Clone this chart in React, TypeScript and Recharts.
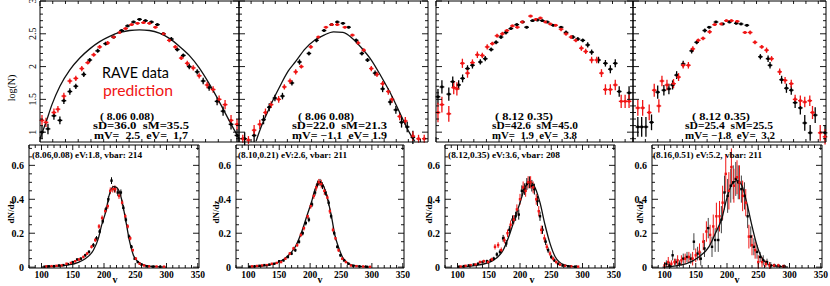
import { ComposedChart, Scatter, Line, XAxis, YAxis, ErrorBar } from 'recharts';

type Pt = [number, number, number];
type CPt = [number, number];

// ---- top row: log(N) panels (x in arbitrary 0..100 units) ----
const topYTicks = [0.9, 1, 1.1, 1.2, 1.3, 1.4, 1.5, 1.6, 1.7, 1.8, 1.9, 2, 2.1, 2.2, 2.3, 2.4, 2.5, 2.6, 2.7, 2.8, 2.9, 3];
const topXTicks = [0, 6.4, 12.8, 19.2, 25.6, 32, 38.4, 44.8, 51.2, 57.6, 64, 70.4, 76.8, 83.2, 89.6, 96];

const top1Black: Pt[] = [
  [1, 1.0, 0.1], [4, 1.05, 0.08], [7, 1.25, 0.06], [10, 1.18, 0.06], [12, 1.48, 0.05], [15, 1.62, 0.05],
  [18, 1.7, 0.04], [22, 1.88, 0.04], [25, 2.1, 0.03], [29, 2.24, 0.03], [33, 2.35, 0.03], [37, 2.45, 0.02],
  [41, 2.55, 0.02], [44, 2.62, 0.02], [47, 2.68, 0.02], [50, 2.72, 0.02], [53, 2.7, 0.02], [56, 2.68, 0.02],
  [59, 2.64, 0.02], [62, 2.5, 0.02], [66, 2.42, 0.03], [69, 2.26, 0.03], [72, 2.17, 0.03], [75, 2.0, 0.04],
  [79, 1.92, 0.04], [82, 1.78, 0.05], [85, 1.68, 0.05], [89, 1.47, 0.06], [92, 1.32, 0.07], [96, 1.12, 0.08],
  [99, 0.95, 0.1],
];
const top1Red: Pt[] = [
  [1, 1.18, 0.08], [3, 1.15, 0.07], [7, 1.3, 0.06], [9, 1.35, 0.05], [12, 1.55, 0.05], [15, 1.78, 0.04],
  [18, 1.82, 0.04], [21, 1.97, 0.04], [24, 2.06, 0.03], [27, 2.18, 0.03], [30, 2.3, 0.03], [34, 2.36, 0.03],
  [37, 2.45, 0.02], [40, 2.52, 0.02], [43, 2.58, 0.02], [46, 2.64, 0.02], [49, 2.66, 0.02], [52, 2.67, 0.02],
  [55, 2.66, 0.02], [58, 2.6, 0.02], [62, 2.5, 0.02], [65, 2.4, 0.03], [68, 2.3, 0.03], [71, 2.13, 0.03],
  [74, 2.05, 0.04], [77, 1.98, 0.04], [80, 1.86, 0.04], [84, 1.72, 0.05], [87, 1.65, 0.05], [90, 1.5, 0.06],
  [93, 1.42, 0.07], [96, 1.18, 0.08], [99, 1.12, 0.08],
];
const top1Curve: CPt[] = [
  [0, 0.9], [3, 1.15], [6, 1.42], [10, 1.7], [15, 1.95], [20, 2.13], [25, 2.27], [30, 2.38], [35, 2.46],
  [40, 2.52], [45, 2.55], [50, 2.56], [55, 2.55], [60, 2.51], [65, 2.43], [70, 2.31], [75, 2.17], [80, 1.98],
  [85, 1.74], [90, 1.47], [95, 1.18], [100, 0.9],
];

const top2Black: Pt[] = [
  [3, 0.9, 0.1], [8, 0.95, 0.1], [13, 1.19, 0.07], [16, 1.38, 0.06], [19, 1.52, 0.05], [23, 1.55, 0.05],
  [28, 1.75, 0.04], [32, 2.07, 0.04], [37, 2.2, 0.03], [41, 2.4, 0.03], [45, 2.55, 0.02], [49, 2.64, 0.02],
  [52, 2.68, 0.02], [55, 2.66, 0.02], [58, 2.6, 0.02], [62, 2.4, 0.03], [65, 2.2, 0.03], [68, 2.1, 0.03],
  [72, 1.9, 0.04], [76, 1.66, 0.05], [80, 1.46, 0.05], [83, 1.34, 0.06], [86, 1.15, 0.08], [89, 1.08, 0.08],
  [92, 0.92, 0.1],
];
const top2Red: Pt[] = [
  [2, 0.9, 0.06], [5, 0.88, 0.06], [8, 1.03, 0.08], [11, 1.12, 0.07], [14, 1.3, 0.06], [17, 1.42, 0.05],
  [21, 1.5, 0.05], [24, 1.69, 0.04], [27, 1.78, 0.04], [30, 1.92, 0.04], [33, 2.0, 0.03], [38, 2.3, 0.03],
  [42, 2.45, 0.02], [46, 2.6, 0.02], [49, 2.64, 0.02], [52, 2.64, 0.02], [56, 2.6, 0.02], [60, 2.48, 0.02],
  [63, 2.36, 0.03], [66, 2.25, 0.03], [70, 1.97, 0.04], [73, 1.88, 0.04], [76, 1.74, 0.04], [79, 1.62, 0.05],
  [81, 1.5, 0.05], [85, 1.24, 0.06], [88, 1.17, 0.06], [92, 0.94, 0.07], [95, 0.9, 0.06], [98, 0.9, 0.06],
];
const top2Curve: CPt[] = [
  [9, 0.86], [12, 1.1], [15, 1.3], [18, 1.49], [22, 1.72], [26, 1.93], [30, 2.08], [35, 2.27], [40, 2.4],
  [45, 2.48], [50, 2.53], [55, 2.52], [60, 2.43], [65, 2.28], [70, 2.1], [75, 1.86], [80, 1.6], [85, 1.3],
  [90, 1.0], [93, 0.86],
];

const top3Black: Pt[] = [
  [1, 1.54, 0.12], [3, 1.69, 0.1], [6.5, 1.58, 0.1], [8.5, 1.77, 0.08], [11.5, 1.72, 0.07], [13.5, 1.82, 0.06],
  [16, 1.97, 0.05], [18.5, 2.02, 0.05], [22.5, 2.07, 0.04], [25, 2.12, 0.04], [28, 2.26, 0.03], [30.5, 2.37, 0.03],
  [33, 2.45, 0.03], [35.5, 2.52, 0.03], [38, 2.58, 0.02], [41, 2.64, 0.02], [44, 2.68, 0.02], [46, 2.6, 0.02],
  [49, 2.7, 0.02], [51.5, 2.71, 0.02], [54, 2.7, 0.02], [56.5, 2.68, 0.02], [59.5, 2.63, 0.02], [63.5, 2.6, 0.02],
  [66, 2.52, 0.03], [69.5, 2.45, 0.03], [72, 2.42, 0.03], [74.5, 2.4, 0.03], [77, 2.33, 0.04], [79, 2.22, 0.04],
  [82.5, 2.1, 0.05], [86, 2.05, 0.05], [88.5, 1.96, 0.06], [91, 2.05, 0.06], [93, 1.62, 0.08], [98, 1.6, 0.1],
];
const top3Red: Pt[] = [
  [1, 1.3, 0.15], [3, 1.42, 0.12], [6.5, 1.28, 0.12], [9, 1.68, 0.1], [10.6, 1.66, 0.1], [13.4, 2.05, 0.07],
  [16, 1.9, 0.07], [18.5, 2.06, 0.05], [21, 2.18, 0.05], [23.5, 2.17, 0.04], [26, 2.3, 0.04], [28.6, 2.35, 0.03],
  [31, 2.47, 0.03], [33.7, 2.5, 0.03], [36, 2.55, 0.02], [38.8, 2.62, 0.02], [41.3, 2.6, 0.02], [43.8, 2.68, 0.02],
  [48, 2.77, 0.02], [50.7, 2.72, 0.02], [53, 2.74, 0.02], [55.6, 2.68, 0.02], [58, 2.65, 0.02], [60.7, 2.63, 0.02],
  [63.5, 2.57, 0.03], [66, 2.5, 0.03], [68.6, 2.45, 0.03], [71, 2.4, 0.03], [73.8, 2.28, 0.04], [76, 2.23, 0.04],
  [79, 2.1, 0.05], [81.6, 2.1, 0.05], [84, 1.9, 0.06], [86, 1.65, 0.08], [88.5, 1.65, 0.08], [91, 1.72, 0.08],
  [94, 1.47, 0.1], [96, 1.47, 0.1], [98, 1.47, 0.1],
];

const top4Black: Pt[] = [
  [2.5, 1.08, 0.15], [4.5, 1.08, 0.15], [6.7, 1.08, 0.15], [9.6, 1.15, 0.12], [12.8, 1.61, 0.1], [16, 1.64, 0.08],
  [18.6, 1.66, 0.08], [20.5, 1.72, 0.07], [22.6, 1.87, 0.06], [26, 2.04, 0.05], [30.4, 2.24, 0.04], [33, 2.37, 0.03],
  [37.2, 2.55, 0.03], [39.5, 2.6, 0.02], [43, 2.68, 0.02], [46.5, 2.65, 0.02], [50, 2.68, 0.02], [53.5, 2.66, 0.02],
  [56, 2.65, 0.02], [59, 2.63, 0.02], [66, 2.15, 0.04], [70, 2.12, 0.05], [71, 2.02, 0.05], [77, 1.8, 0.06],
  [79.5, 1.67, 0.07], [82, 1.64, 0.07], [84, 1.45, 0.08], [86.7, 1.37, 0.1], [89, 1.14, 0.12], [91.8, 0.99, 0.12],
  [94.4, 1.26, 0.12], [99.5, 0.99, 0.12],
];
const top4Red: Pt[] = [
  [2.5, 1.37, 0.12], [5, 1.37, 0.12], [8.4, 1.3, 0.12], [11, 1.64, 0.1], [13.4, 1.4, 0.1], [15, 1.78, 0.08],
  [17.6, 1.72, 0.08], [21, 1.74, 0.07], [23.6, 1.84, 0.06], [26, 2.02, 0.05], [28.7, 2.02, 0.05], [31, 2.27, 0.04],
  [33.8, 2.4, 0.03], [36.3, 2.43, 0.03], [39.7, 2.53, 0.03], [42.3, 2.64, 0.02], [45.8, 2.65, 0.02], [48.4, 2.7, 0.02],
  [51, 2.7, 0.02], [54, 2.69, 0.02], [58, 2.52, 0.02], [60.7, 2.52, 0.03], [63.2, 2.37, 0.03], [66.7, 2.3, 0.03],
  [69.2, 2.25, 0.04], [71.8, 2.12, 0.04], [76, 1.92, 0.05], [78.8, 1.79, 0.05], [82, 1.74, 0.06], [84, 1.5, 0.07],
  [86.7, 1.48, 0.08], [89, 1.46, 0.08], [91.6, 1.48, 0.08], [93, 1.3, 0.1], [97, 0.99, 0.12], [99.5, 0.93, 0.12],
];

// ---- bottom row: dN/dz vs v ----
const botXTicks = [80, 90, 100, 110, 120, 130, 140, 150, 160, 170, 180, 190, 200, 210, 220, 230, 240, 250, 260, 270, 280, 290, 300, 310, 320, 330, 340, 350];
const botYTicks = [0, 0.05, 0.1, 0.15, 0.2, 0.25, 0.3, 0.35, 0.4, 0.45, 0.5, 0.55, 0.6, 0.65, 0.7];
const botYLabels = ['0', '0.2', '0.4', '0.6'];

const bot1Black: Pt[] = [
  [105, 0.003, 0.003], [112, 0.005, 0.003], [120, 0.006, 0.004], [128, 0.01, 0.004], [135, 0.012, 0.005],
  [142, 0.018, 0.005], [150, 0.03, 0.006], [157, 0.045, 0.007], [163, 0.05, 0.008], [170, 0.07, 0.009],
  [176, 0.09, 0.01], [183, 0.13, 0.012], [188, 0.17, 0.013], [193, 0.21, 0.014], [198, 0.27, 0.015],
  [203, 0.34, 0.016], [207, 0.4, 0.018], [212, 0.51, 0.02], [217, 0.46, 0.02], [222, 0.44, 0.02],
  [227, 0.44, 0.018], [231, 0.35, 0.016], [235, 0.28, 0.015], [240, 0.18, 0.013], [244, 0.12, 0.011],
  [249, 0.05, 0.008], [254, 0.03, 0.006], [260, 0.015, 0.005], [268, 0.005, 0.004], [278, 0.003, 0.003],
  [290, 0.002, 0.003],
];
const bot1Red: Pt[] = [
  [108, 0.005, 0.003], [116, 0.006, 0.003], [124, 0.008, 0.004], [132, 0.01, 0.004], [140, 0.02, 0.005],
  [147, 0.025, 0.005], [154, 0.035, 0.006], [160, 0.045, 0.007], [167, 0.06, 0.008], [173, 0.08, 0.009],
  [180, 0.12, 0.01], [186, 0.16, 0.012], [192, 0.24, 0.014], [197, 0.29, 0.015], [202, 0.33, 0.016],
  [206, 0.36, 0.017], [210, 0.45, 0.02], [214, 0.46, 0.02], [218, 0.46, 0.02], [224, 0.42, 0.018],
  [229, 0.38, 0.017], [234, 0.3, 0.015], [238, 0.24, 0.014], [242, 0.17, 0.012], [246, 0.1, 0.01],
  [251, 0.05, 0.008], [257, 0.02, 0.006], [264, 0.01, 0.005], [272, 0.005, 0.004], [284, 0.004, 0.003],
  [296, 0.003, 0.003],
];
const bot1Curve: CPt[] = [
  [100, 0], [143, 0.013], [160, 0.03], [170, 0.05], [183, 0.1], [191, 0.17], [196, 0.245], [203, 0.33],
  [208, 0.42], [215, 0.475], [220, 0.47], [226, 0.43], [231, 0.35], [236, 0.25], [241, 0.15], [247, 0.07],
  [255, 0.03], [271, 0.006], [300, 0],
];

const bot2Black: Pt[] = [
  [102, 0.003, 0.003], [110, 0.005, 0.003], [118, 0.008, 0.004], [126, 0.012, 0.004], [134, 0.015, 0.005],
  [142, 0.02, 0.005], [150, 0.035, 0.006], [157, 0.04, 0.007], [164, 0.06, 0.008], [170, 0.08, 0.009],
  [176, 0.1, 0.01], [182, 0.15, 0.012], [188, 0.2, 0.013], [193, 0.26, 0.014], [198, 0.28, 0.015],
  [203, 0.37, 0.016], [208, 0.44, 0.018], [212, 0.49, 0.02], [216, 0.5, 0.02], [220, 0.48, 0.02],
  [225, 0.44, 0.018], [230, 0.38, 0.017], [234, 0.3, 0.015], [239, 0.2, 0.013], [244, 0.12, 0.011],
  [249, 0.07, 0.009], [255, 0.04, 0.007], [262, 0.02, 0.005], [270, 0.008, 0.004], [280, 0.004, 0.003],
  [292, 0.002, 0.003],
];
const bot2Red: Pt[] = [
  [106, 0.005, 0.003], [114, 0.007, 0.003], [122, 0.01, 0.004], [130, 0.012, 0.004], [138, 0.02, 0.005],
  [146, 0.025, 0.005], [153, 0.03, 0.006], [160, 0.05, 0.007], [167, 0.08, 0.009], [173, 0.11, 0.01],
  [179, 0.13, 0.011], [185, 0.19, 0.013], [190, 0.23, 0.014], [196, 0.3, 0.015], [201, 0.36, 0.016],
  [206, 0.42, 0.018], [210, 0.47, 0.02], [214, 0.5, 0.02], [218, 0.49, 0.025], [223, 0.45, 0.025],
  [228, 0.41, 0.018], [232, 0.33, 0.016], [237, 0.22, 0.014], [241, 0.17, 0.012], [246, 0.1, 0.01],
  [252, 0.05, 0.008], [258, 0.03, 0.006], [266, 0.01, 0.005], [275, 0.006, 0.004], [286, 0.004, 0.003],
  [297, 0.002, 0.003],
];
const bot2Curve: CPt[] = [
  [100, 0], [141, 0.02], [162, 0.06], [176, 0.12], [186.5, 0.21], [194.6, 0.3], [202.7, 0.39], [208, 0.46],
  [216, 0.5], [221.5, 0.48], [227, 0.42], [235, 0.29], [240, 0.19], [245.7, 0.12], [254, 0.05], [270, 0.01],
  [297, 0],
];

const bot3Black: Pt[] = [
  [102, 0.003, 0.003], [110, 0.006, 0.004], [118, 0.01, 0.005], [126, 0.015, 0.006], [133, 0.02, 0.007],
  [140, 0.03, 0.008], [147, 0.035, 0.009], [153, 0.04, 0.01], [158, 0.05, 0.011], [163, 0.075, 0.013],
  [168, 0.09, 0.015], [173, 0.17, 0.02], [178, 0.14, 0.02], [183, 0.22, 0.022], [188, 0.28, 0.025],
  [193, 0.3, 0.027], [198, 0.31, 0.03], [203, 0.45, 0.032], [207, 0.46, 0.034], [211, 0.49, 0.035],
  [215, 0.5, 0.035], [219, 0.48, 0.034], [223, 0.46, 0.032], [228, 0.39, 0.03], [232, 0.3, 0.027],
  [236, 0.22, 0.024], [241, 0.15, 0.02], [245, 0.1, 0.016], [250, 0.06, 0.013], [255, 0.04, 0.01],
  [261, 0.02, 0.008], [268, 0.01, 0.006], [277, 0.005, 0.004], [288, 0.003, 0.003],
];
const bot3Red: Pt[] = [
  [105, 0.004, 0.003], [113, 0.008, 0.004], [121, 0.012, 0.005], [129, 0.015, 0.006], [136, 0.03, 0.008],
  [142, 0.035, 0.009], [149, 0.03, 0.01], [155, 0.045, 0.011], [160, 0.12, 0.016], [165, 0.13, 0.017],
  [170, 0.1, 0.016], [175, 0.16, 0.02], [180, 0.2, 0.022], [185, 0.25, 0.025], [190, 0.28, 0.027],
  [195, 0.34, 0.03], [200, 0.4, 0.032], [205, 0.47, 0.035], [209, 0.45, 0.035], [213, 0.5, 0.036],
  [217, 0.5, 0.036], [221, 0.47, 0.035], [226, 0.4, 0.032], [230, 0.33, 0.03], [234, 0.22, 0.025],
  [239, 0.17, 0.022], [243, 0.12, 0.018], [248, 0.08, 0.015], [253, 0.05, 0.012], [258, 0.03, 0.009],
  [264, 0.015, 0.007], [272, 0.008, 0.005], [282, 0.005, 0.004], [293, 0.003, 0.003],
];
const bot3Curve: CPt[] = [
  [100, 0], [130, 0.01], [157, 0.04], [173, 0.1], [184, 0.2], [192, 0.29], [200, 0.38], [208, 0.47],
  [216, 0.5], [224, 0.47], [232, 0.38], [240, 0.25], [248, 0.14], [256.5, 0.06], [270, 0.015], [291, 0],
];

const bot4Black: Pt[] = [
  [103, 0.02, 0.02], [108, 0.01, 0.02], [113, 0.07, 0.03], [118, 0.03, 0.02], [124, 0.02, 0.02],
  [130, 0.05, 0.03], [136, 0.06, 0.03], [142, 0.05, 0.03], [147, 0.15, 0.05], [153, 0.08, 0.04],
  [158, 0.05, 0.04], [164, 0.11, 0.05], [170, 0.23, 0.06], [176, 0.12, 0.06], [181, 0.16, 0.07],
  [186, 0.16, 0.07], [191, 0.28, 0.08], [196, 0.44, 0.1], [201, 0.42, 0.1], [206, 0.48, 0.1],
  [210, 0.5, 0.1], [214, 0.52, 0.1], [218, 0.5, 0.1], [223, 0.46, 0.08], [228, 0.42, 0.08],
  [233, 0.3, 0.07], [238, 0.18, 0.06], [243, 0.12, 0.05], [248, 0.09, 0.04], [253, 0.06, 0.03],
  [258, 0.04, 0.03], [264, 0.03, 0.02], [270, 0.01, 0.02], [276, 0.01, 0.01], [284, 0.005, 0.01],
  [292, 0.005, 0.01],
];
const bot4Red: Pt[] = [
  [100, 0.01, 0.02], [106, 0.03, 0.03], [111, 0.02, 0.02], [116, 0.03, 0.02], [121, 0.04, 0.03],
  [127, 0.04, 0.03], [133, 0.05, 0.03], [139, 0.06, 0.03], [145, 0.05, 0.04], [150, 0.07, 0.04],
  [156, 0.09, 0.05], [162, 0.15, 0.05], [167, 0.21, 0.06], [173, 0.19, 0.06], [178, 0.24, 0.07],
  [183, 0.3, 0.08], [188, 0.3, 0.09], [193, 0.38, 0.1], [198, 0.55, 0.11], [203, 0.45, 0.11],
  [207, 0.59, 0.11], [211, 0.48, 0.1], [216, 0.53, 0.1], [220, 0.5, 0.1], [225, 0.42, 0.09],
  [230, 0.38, 0.08], [235, 0.18, 0.07], [240, 0.13, 0.06], [245, 0.1, 0.05], [250, 0.03, 0.04],
  [256, 0.03, 0.03], [262, 0.02, 0.02], [268, 0.01, 0.02], [275, 0.01, 0.01], [282, 0.01, 0.01],
  [290, 0.005, 0.01],
];
const bot4Curve: CPt[] = [
  [97, 0], [134, 0.02], [155, 0.06], [171, 0.12], [181.5, 0.2], [192, 0.29], [200, 0.41], [208, 0.49],
  [216, 0.51], [224, 0.48], [231.6, 0.38], [239.5, 0.25], [247, 0.14], [255, 0.06], [271, 0.01], [297.5, 0],
];

const annotTop = [
  ['( 8.06 0.08)', 'sD=36.0  sM=35.5', 'mV=  2.5  eV=  1.7'],
  ['( 8.06 0.08)', 'sD=22.0  sM=21.3', 'mV= \u22121.1  eV= 1.9'],
  ['( 8.12 0.35)', 'sD=42.6  sM=45.0', 'mV=  1.9  eV=  3.8'],
  ['( 8.12 0.35)', 'sD=25.4  sM=25.5', 'mV= \u22121.8  eV=  3.2'],
];
const titlesBottom = [
  '(8.06,0.08) eV:1.8, vbar: 214',
  '(8.10,0.21) eV:2.6, vbar: 211',
  '(8.12,0.35) eV:3.6, vbar: 208',
  '(8.16,0.51) eV:5.2, vbar: 211',
];

const SERIF = '"Liberation Serif", "DejaVu Serif", serif';
const RED = '#f01414';

function isMult(v: number, step: number) {
  const r = v / step;
  return Math.abs(r - Math.round(r)) < 1e-6;
}

type Side = 'left' | 'right' | 'top' | 'bottom';
type LabelKind = 'none' | 'rot' | 'plain';

function makeTick(side: Side, majorStep: number, majorLen: number, minorLen: number, label: LabelKind, labels?: string[]) {
  return (props: any) => {
    const { x, y, payload } = props;
    const v = payload.value as number;
    const major = isMult(v, majorStep);
    const len = major ? majorLen : minorLen;
    const s = labels ? labels[Math.round(v / majorStep)] : String(v);
    let x2 = x, y2 = y;
    if (side === 'left') x2 = x + len;
    if (side === 'right') x2 = x - len;
    if (side === 'top') y2 = y + len;
    if (side === 'bottom') y2 = y - len;
    let txt = null;
    if (major && label === 'rot') {
      txt = (
        <text x={x - 4} y={y} transform={`rotate(-90 ${x - 4} ${y})`} textAnchor="middle" fontSize={10} fontFamily={SERIF} fill="#000">
          {s}
        </text>
      );
    } else if (major && label === 'plain' && side === 'left') {
      txt = (
        <text x={x - 5} y={y + 3.5} textAnchor="end" fontSize={10} fontWeight="bold" fontFamily={SERIF} fill="#000">
          {s}
        </text>
      );
    } else if (major && label === 'plain' && side === 'bottom') {
      txt = (
        <text x={x} y={y + 10} textAnchor="middle" fontSize={9.5} fontWeight="bold" fontFamily={SERIF} fill="#000">
          {s}
        </text>
      );
    }
    return (
      <g>
        <line x1={x} y1={y} x2={x2} y2={y2} stroke="#000" strokeWidth={0.9} />
        {txt}
      </g>
    );
  };
}

interface PanelProps {
  left: number;
  top: number;
  width: number;
  height: number;
  xDomain: [number, number];
  yDomain: [number, number];
  xTicks: number[];
  yTicks: number[];
  xMajor: number;
  yMajor: number;
  xLabels: LabelKind;
  yLabels: LabelKind;
  yLabelText?: string[];
  black: Pt[];
  red: Pt[];
  curve?: CPt[];
  ex: number;
  dot: number;
  barW: number;
  blackBar: string;
  redBar: string;
}

function Panel(p: PanelProps) {
  const M = 24;
  const bData = p.black.map(([x, y, ey]) => ({ x, y, ey, ex: p.ex }));
  const rData = p.red.map(([x, y, ey]) => ({ x, y, ey, ex: p.ex }));
  const cData = p.curve ? p.curve.map(([x, y]) => ({ x, y })) : null;
  const axisCommon = { type: 'number' as const, allowDataOverflow: true, tickSize: 0, tickMargin: 0, tickLine: false, interval: 0 as const, axisLine: { stroke: '#000', strokeWidth: 1 } };
  return (
    <div style={{ position: 'absolute', left: p.left - M, top: p.top - M }}>
      <ComposedChart width={p.width + 2 * M} height={p.height + 2 * M} margin={{ top: M - 1, right: M - 1, bottom: M - 1, left: M - 1 }}>
        <XAxis xAxisId="b" orientation="bottom" dataKey="x" domain={p.xDomain} ticks={p.xTicks} height={1} {...axisCommon} tick={makeTick('bottom', p.xMajor, 5, 3, p.xLabels)} />
        <XAxis xAxisId="t" orientation="top" dataKey="x" domain={p.xDomain} ticks={p.xTicks} height={1} {...axisCommon} tick={makeTick('top', p.xMajor, 5, 3, 'none')} />
        <YAxis yAxisId="l" orientation="left" dataKey="y" domain={p.yDomain} ticks={p.yTicks} width={1} {...axisCommon} tick={makeTick('left', p.yMajor, 6, 3, p.yLabels, p.yLabelText)} />
        <YAxis yAxisId="r" orientation="right" dataKey="y" domain={p.yDomain} ticks={p.yTicks} width={1} {...axisCommon} tick={makeTick('right', p.yMajor, 6, 3, 'none')} />
        <Scatter xAxisId="b" yAxisId="l" data={bData} isAnimationActive={false}
          shape={(s: any) => <rect x={s.cx - p.dot / 2} y={s.cy - p.dot / 2} width={p.dot} height={p.dot} fill="#000" />}>
          <ErrorBar dataKey="ey" direction="y" width={0} stroke={p.blackBar} strokeWidth={p.barW} isAnimationActive={false} />
          <ErrorBar dataKey="ex" direction="x" width={0} stroke={p.blackBar} strokeWidth={p.barW} isAnimationActive={false} />
        </Scatter>
        <Scatter xAxisId="b" yAxisId="l" data={rData} isAnimationActive={false}
          shape={(s: any) => <rect x={s.cx - p.dot / 2} y={s.cy - p.dot / 2} width={p.dot} height={p.dot} fill={RED} />}>
          <ErrorBar dataKey="ey" direction="y" width={0} stroke={p.redBar} strokeWidth={p.barW} isAnimationActive={false} />
          <ErrorBar dataKey="ex" direction="x" width={0} stroke={p.redBar} strokeWidth={p.barW} isAnimationActive={false} />
        </Scatter>
        {cData && (
          <Line xAxisId="b" yAxisId="l" data={cData} dataKey="y" type="monotone" dot={false} stroke="#111" strokeWidth={1.3} isAnimationActive={false} />
        )}
      </ComposedChart>
    </div>
  );
}

const topFrames = [
  { left: 40, width: 199 },
  { left: 239, width: 189 },
  { left: 436, width: 197 },
  { left: 633, width: 193 },
];
const botFrames = [
  { left: 29, width: 170 },
  { left: 236, width: 168 },
  { left: 445, width: 170 },
  { left: 652, width: 170 },
];
const topSets = [
  { black: top1Black, red: top1Red, curve: top1Curve },
  { black: top2Black, red: top2Red, curve: top2Curve },
  { black: top3Black, red: top3Red },
  { black: top4Black, red: top4Red },
];
const botSets = [
  { black: bot1Black, red: bot1Red, curve: bot1Curve },
  { black: bot2Black, red: bot2Red, curve: bot2Curve },
  { black: bot3Black, red: bot3Red, curve: bot3Curve },
  { black: bot4Black, red: bot4Red, curve: bot4Curve },
];

const annotPos = [
  { x: [100, 93, 94], w: [54, 96, 94] },
  { x: [298, 292, 292], w: [56, 95, 95] },
  { x: [495, 492, 492], w: [58, 86, 85] },
  { x: [692, 685, 685], w: [58, 88, 90] },
];
const titlePos = [{ x: 32, w: 110 }, { x: 238, w: 109 }, { x: 448, w: 112 }, { x: 653, w: 109 }];
const dnPos = [14, 219, 432, 643];
const vPos = [115, 320, 532, 737];

export default function App() {
  return (
    <div style={{ position: 'absolute', left: 0, top: 0, width: 830, height: 286, background: '#fff', overflow: 'hidden' }}>
      {topSets.map((s, i) => (
        <Panel key={`t${i}`} left={topFrames[i].left} top={1} width={topFrames[i].width} height={141}
          xDomain={[0, 100]} yDomain={[0.85, 3]} xTicks={topXTicks} yTicks={topYTicks}
          xMajor={1000} yMajor={0.5} xLabels="none" yLabels={i === 0 ? 'rot' : 'none'}
          black={s.black} red={s.red} curve={s.curve} ex={1.2} dot={2.6} barW={1.3} blackBar="#000" redBar={RED} />
      ))}
      {botSets.map((s, i) => (
        <Panel key={`b${i}`} left={botFrames[i].left} top={145} width={botFrames[i].width} height={123}
          xDomain={[80, 352]} yDomain={[-0.005, 0.72]} xTicks={botXTicks} yTicks={botYTicks}
          xMajor={50} yMajor={0.2} xLabels="plain" yLabels="plain" yLabelText={botYLabels}
          black={s.black} red={s.red} curve={s.curve} ex={0} dot={2.4} barW={1} blackBar={i === 3 ? '#444' : '#000'} redBar={RED} />
      ))}
      <svg width={830} height={286} style={{ position: 'absolute', left: 0, top: 0, pointerEvents: 'none' }}>
        <text x={15} y={88} transform="rotate(-90 15 88)" textAnchor="middle" fontSize={10} fontFamily={SERIF}>log(N)</text>
        <text x={102} y={78} fontSize={16} fontFamily='Lato, "Open Sans", sans-serif' textLength={67} lengthAdjust="spacingAndGlyphs">RAVE data</text>
        <text x={103} y={96} fontSize={16} fontFamily='Lato, "Open Sans", sans-serif' fill={RED} textLength={70} lengthAdjust="spacingAndGlyphs">prediction</text>
        {annotTop.map((lines, i) =>
          lines.map((t, j) => (
            <text key={`a${i}${j}`} x={annotPos[i].x[j]} y={119.5 + j * 9.8} fontSize={10} fontWeight="bold" fontFamily={SERIF}
              textLength={annotPos[i].w[j]} lengthAdjust="spacingAndGlyphs" style={{ whiteSpace: 'pre' }}>{t}</text>
          ))
        )}
        {titlesBottom.map((t, i) => (
          <text key={`bt${i}`} x={titlePos[i].x} y={158} fontSize={8.5} fontWeight="bold" fontFamily={SERIF}
            textLength={titlePos[i].w} lengthAdjust="spacingAndGlyphs">{t}</text>
        ))}
        {dnPos.map((x, i) => (
          <text key={`dn${i}`} x={x} y={212} transform={`rotate(-90 ${x} 212)`} textAnchor="middle" fontSize={9} fontWeight="bold" fontFamily={SERIF}>dN/dz</text>
        ))}
        {vPos.map((x, i) => (
          <text key={`v${i}`} x={x} y={283} textAnchor="middle" fontSize={10} fontWeight="bold" fontFamily={SERIF}>v</text>
        ))}
      </svg>
    </div>
  );
}
